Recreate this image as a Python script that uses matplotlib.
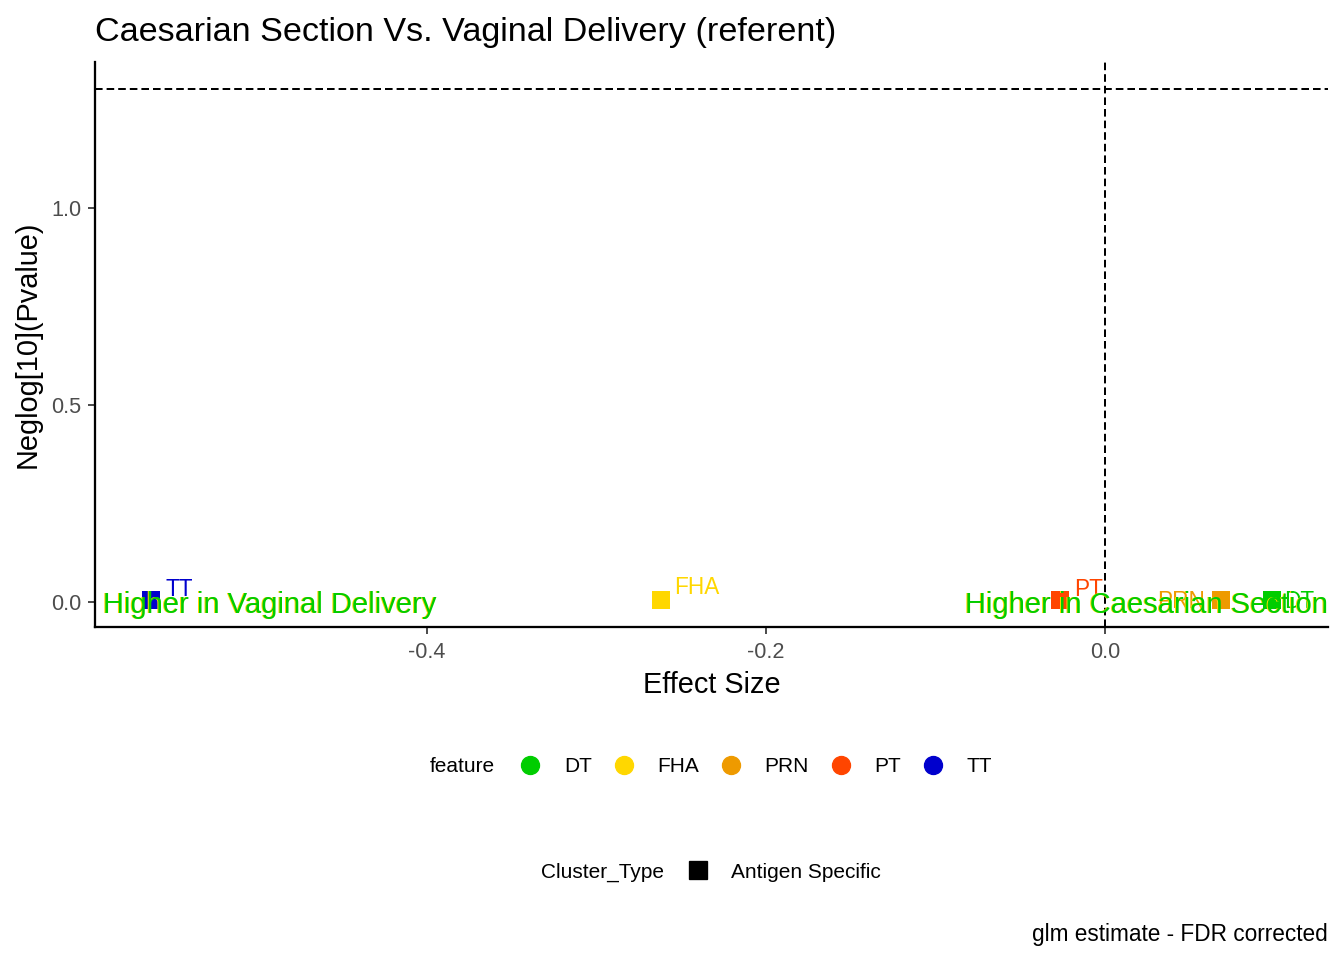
import matplotlib
matplotlib.use('Agg')
import matplotlib.pyplot as plt
from matplotlib.lines import Line2D

plt.rcParams['font.family'] = ['Liberation Sans', 'DejaVu Sans']

# data
features = ['DT', 'FHA', 'PRN', 'PT', 'TT']
effect = [0.0988, -0.2620, 0.0687, -0.0263, -0.5631]
neglogp = [0.004, 0.004, 0.004, 0.004, 0.004]
colors = ['#00CD00', '#FFD700', '#EE9A00', '#FF4500', '#0000CD']
# ggrepel-ish label offsets (points)
label_off = {'DT': (9, -1, 'left'), 'FHA': (10, 10, 'left'), 'PRN': (-12, -1, 'right'),
             'PT': (10, 8, 'left'), 'TT': (11, 8, 'left')}
sig_line = 1.30103   # -log10(0.05)

fig = plt.figure(figsize=(14, 10), dpi=96)
ax = fig.add_axes([95/1344, 1-627/960, 1233/1344, 565/960])

ax.axhline(sig_line, color='black', lw=1.5, ls=(0, (3.8, 2.0)), zorder=1)
ax.axvline(0, color='black', lw=1.5, ls=(0, (3.8, 2.0)), zorder=1)

for f, x, y, c in zip(features, effect, neglogp, colors):
    ax.scatter([x], [y], marker='s', s=190, color=c, zorder=3, linewidths=0)
    dx, dy, ha = label_off[f]
    ax.annotate(f, (x, y), xytext=(dx, dy), textcoords='offset points',
                ha=ha, va='center', color=c, fontsize=17, zorder=4)

# side annotations (drawn twice like the original overprinting)
ytr = ax.get_yaxis_transform()
for col, off in [('#FFD700', -0.0008), ('#00CD00', 0.0)]:
    ax.annotate('Higher in Vaginal Delivery', (0.0065 + off, 0), xycoords=ytr,
                xytext=(0, -2.5), textcoords='offset points',
                ha='left', va='center', color=col, fontsize=21.8, zorder=5)
    ax.annotate('Higher in Caesarian Section', (1.0 + off, 0), xycoords=ytr,
                xytext=(0, -2.5), textcoords='offset points',
                ha='right', va='center', color=col, fontsize=21.8, zorder=5)

ax.set_xlim(-0.5959, 0.1316)
ax.set_ylim(-0.0635, 1.3706)
ax.set_xticks([-0.4, -0.2, 0.0])
ax.set_xticklabels(['-0.4', '-0.2', '0.0'])
ax.set_yticks([0.0, 0.5, 1.0])
ax.set_yticklabels(['0.0', '0.5', '1.0'])
ax.tick_params(length=5, width=1.3, color='#333333', labelcolor='#4D4D4D',
               labelsize=16.2)
ax.tick_params(axis='x', pad=6.5)
ax.tick_params(axis='y', pad=5)
for side in ['top', 'right']:
    ax.spines[side].set_visible(False)
for side in ['left', 'bottom']:
    ax.spines[side].set_linewidth(1.7)

ax.set_xlabel('Effect Size', fontsize=21.7)
ax.set_ylabel('Neglog[10](Pvalue)', fontsize=21.7)
ax.xaxis.set_label_coords(0.5, (627-685)/565)
ax.yaxis.set_label_coords((28-95)/1233, 0.5)
ax.xaxis.label.set_va('center')
ax.yaxis.label.set_va('center')

fig.text(95/1344, 1-32/960, 'Caesarian Section Vs. Vaginal Delivery (referent)',
         ha='left', va='center', fontsize=25.6)

# feature legend
fig.text(430/1344, 1-767/960, 'feature', ha='left', va='center', fontsize=15.7)
handles = [Line2D([], [], marker='o', ls='none', color=c, markersize=13.5) for c in colors]
fig.legend(handles, features, loc='center left', bbox_to_anchor=(520/1344, 1-767/960),
           ncol=5, frameon=False, fontsize=15.7, handlelength=1.0, handletextpad=1.1,
           columnspacing=1.03, borderpad=0, borderaxespad=0)

# cluster type legend
fig.text(541/1344, 1-872/960, 'Cluster_Type', ha='left', va='center', fontsize=15.7)
sq = [Line2D([], [], marker='s', ls='none', color='black', markersize=13.5)]
fig.legend(sq, ['Antigen Specific'], loc='center left', bbox_to_anchor=(688/1344, 1-872/960),
           frameon=False, fontsize=15.7, handlelength=1.0, handletextpad=1.05,
           borderpad=0, borderaxespad=0)

fig.text(1328/1344, 1-935/960, 'glm estimate - FDR corrected', ha='right', va='center',
         fontsize=17)

fig.savefig('out.png', dpi=96)
